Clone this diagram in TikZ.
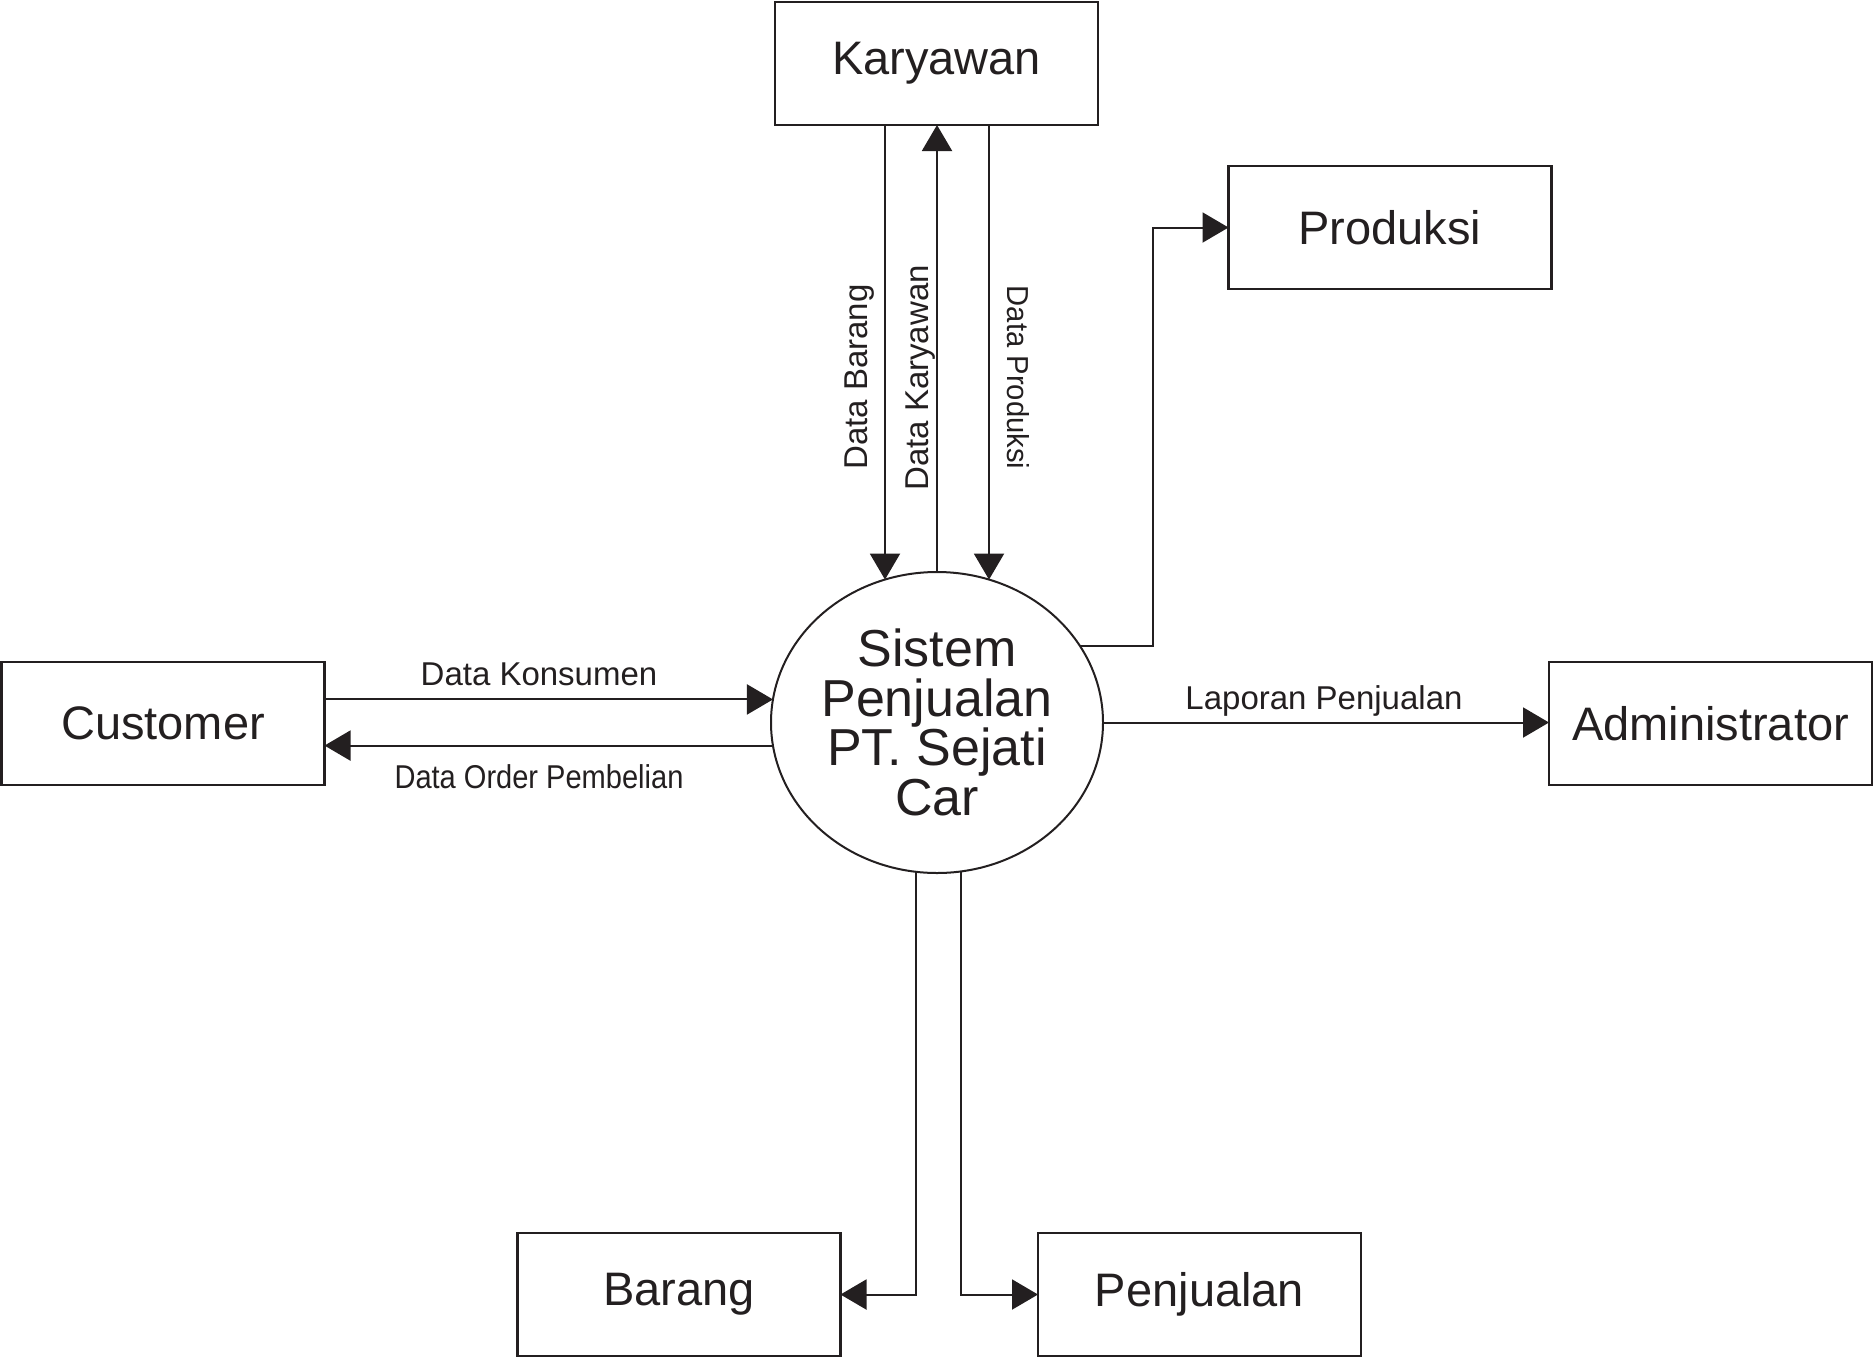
\documentclass[tikz,border=0pt]{standalone}
\usepackage{fontspec}
\setmainfont{Liberation Sans}
\usetikzlibrary{arrows.meta,shapes.geometric}
\definecolor{ink}{HTML}{231F20}
\begin{document}
\begin{tikzpicture}[x=1pt,y=-1pt,
  entity/.style={draw=ink,line width=2.4pt,minimum width=323pt,minimum height=123pt,inner sep=0pt,outer sep=0pt,text=ink,font=\fontsize{47}{56}\selectfont},
  proc/.style={ellipse,draw=ink,line width=2pt,minimum width=332pt,minimum height=301pt,inner sep=0pt,outer sep=0pt,align=center,text=ink,font=\fontsize{52}{49.7}\selectfont},
  flow/.style={draw=ink,line width=2pt,-{Triangle[length=26pt,width=30pt]}},
  lbl/.style={text=ink,font=\fontsize{33}{40}\selectfont,inner sep=0pt,anchor=base}]
\useasboundingbox (0,0) rectangle (1874,1358);
\node[entity] (kar) at (936.5,63.5) {Karyawan};
\node[entity] (prod) at (1390,227.5) {Produksi};
\node[entity] (cust) at (163,723.5) {Customer};
\node[entity] (adm) at (1710.5,723.5) {Administrator};
\node[entity] (bar) at (679,1294.5) {Barang};
\node[entity] (pen) at (1199.5,1294.5) {Penjualan};
\node[proc] (sys) at (937,722.5) {Sistem\\Penjualan\\PT. Sejati\\Car};
% connectors
\draw[flow] (sys.110.79 |- kar.south) -- (sys.110.79);
\draw[flow] (sys.north) -- (sys.north |- kar.south);
\draw[flow] (sys.70.79 |- kar.south) -- (sys.70.79);
\draw[flow] (sys.28.14) -- ++(73,0) |- (prod.west);
\draw[flow] (sys.east) -- (sys.east -| adm.west);
\draw[flow] (cust.east |- sys.172) -- (sys.172);
\draw[flow] (sys.188.86) -- (cust.east |- sys.188.86);
\draw[flow] (sys.262.38) |- (bar.east);
\draw[flow] (sys.279.93) |- (pen.west);
% labels
\node[lbl] (lk) at (539,685) {Data Konsumen};
\node[lbl] (lo) at (539,788) {\scalebox{0.88}[1]{Data Order Pembelian}};
\node[lbl] (ll) at (1324,709) {Laporan Penjualan};
\node[lbl,rotate=90] (lb) at (867,377) {Data Barang};
\node[lbl,rotate=90] (lkar) at (928,378) {Data Karyawan};
\node[lbl,rotate=-90] (lp) at (1007,377.5) {\scalebox{0.885}[0.92]{Data Produksi}};
\end{tikzpicture}
\end{document}
